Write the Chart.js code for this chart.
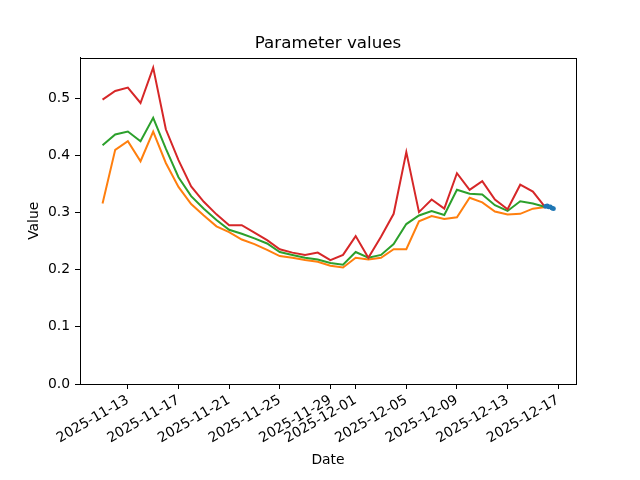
<!DOCTYPE html>
<html>
<head>
<meta charset="utf-8">
<script src="https://cdn.jsdelivr.net/npm/chart.js@4"></script>
<style>
  html, body { margin: 0; padding: 0; background: #fff; }
  #wrap { width: 640px; height: 480px; }
</style>
</head>
<body>
<div id="wrap"><canvas id="chart" width="640" height="480"></canvas></div>
<script>
// data
const dates = [
  '2025-11-11','2025-11-12','2025-11-13','2025-11-14','2025-11-15','2025-11-16',
  '2025-11-17','2025-11-18','2025-11-19','2025-11-20','2025-11-21','2025-11-22',
  '2025-11-23','2025-11-24','2025-11-25','2025-11-26','2025-11-27','2025-11-28',
  '2025-11-29','2025-11-30','2025-12-01','2025-12-02','2025-12-03','2025-12-04',
  '2025-12-05','2025-12-06','2025-12-07','2025-12-08','2025-12-09','2025-12-10',
  '2025-12-11','2025-12-12','2025-12-13','2025-12-14','2025-12-15','2025-12-16'
];
const redVals = [0.498,0.513,0.519,0.492,0.554,0.446,0.392,0.346,0.319,
  0.297,0.278,0.278,0.265,0.252,0.236,0.230,0.226,0.230,
  0.217,0.226,0.259,0.221,0.258,0.298,0.406,0.301,0.323,
  0.307,0.369,0.340,0.355,0.323,0.306,0.349,0.337,0.309];
const greenVals = [0.418,0.437,0.442,0.425,0.466,0.412,0.362,0.329,0.307,
  0.287,0.270,0.263,0.255,0.246,0.231,0.226,0.221,0.218,
  0.212,0.209,0.231,0.221,0.226,0.245,0.280,0.295,0.303,
  0.296,0.340,0.333,0.332,0.313,0.303,0.320,0.316,0.310];
const orangeVals = [0.316,0.410,0.425,0.390,0.442,0.387,0.345,0.315,0.295,
  0.276,0.266,0.253,0.245,0.235,0.224,0.221,0.217,0.214,
  0.207,0.204,0.221,0.218,0.221,0.236,0.236,0.285,0.294,
  0.289,0.292,0.326,0.318,0.302,0.297,0.298,0.307,0.310];
// short hourly series at the end
const blueTimes = ['2025-12-16T00:00','2025-12-16T03:00','2025-12-16T06:00',
  '2025-12-16T09:00','2025-12-16T12:00','2025-12-16T15:00'];
const blueVals = [0.311,0.312,0.310,0.310,0.308,0.307];

const xTickLabels = ['2025-11-13','2025-11-17','2025-11-21','2025-11-25','2025-11-29',
  '2025-12-01','2025-12-05','2025-12-09','2025-12-13','2025-12-17'];
const yTicks = [0,0.1,0.2,0.3,0.4,0.5];
const chartTitle = 'Parameter values';

// helpers: dates -> day offsets from first date
const BASE = Date.UTC(2025,10,11);
function toDay(s){
  const p = s.split('T');
  const d = p[0].split('-').map(Number);
  let t = Date.UTC(d[0], d[1]-1, d[2]);
  if(p[1]){ const h = p[1].split(':').map(Number); t += (h[0]*60 + h[1])*60000; }
  return (t - BASE) / 864e5;
}
function fmtDay(v){ return new Date(BASE + Math.round(v)*864e5).toISOString().slice(0,10); }
function pts(xs, ys){ return xs.map((s,i)=>({x:toDay(s), y:ys[i]})); }

const allX = dates.map(toDay).concat(blueTimes.map(toDay));
const xLo = Math.min(...allX), xHi = Math.max(...allX);
const xPad = (xHi - xLo) * 0.05;
const allY = redVals.concat(greenVals, orangeVals, blueVals);
const yHi = Math.max(...allY) + (Math.max(...allY) - Math.min(...allY)) * 0.05;

const FONT = 'DejaVu Sans';
Chart.defaults.font.family = FONT;
Chart.defaults.font.size = 13.9;
Chart.defaults.color = '#000';

// axes box + title centred over the plot area (matplotlib style)
const frame = {
  id: 'frame',
  afterDatasetsDraw(chart){
    const a = chart.chartArea, ctx = chart.ctx;
    ctx.save();
    ctx.strokeStyle = '#000'; ctx.lineWidth = 1;
    ctx.strokeRect(Math.round(a.left)+0.5, Math.round(a.top)+0.5,
      Math.round(a.right-a.left), Math.round(a.bottom-a.top));
    ctx.fillStyle = '#000';
    ctx.font = '16.7px "' + FONT + '"';
    ctx.textAlign = 'center'; ctx.textBaseline = 'alphabetic';
    ctx.fillText(chartTitle, (a.left + a.right)/2, a.top - 9.9);
    ctx.restore();
  }
};

const line = (col, data) => ({data, borderColor:col, backgroundColor:col, borderWidth:2,
  pointRadius:0, tension:0, fill:false});

new Chart(document.getElementById('chart'), {
  type: 'line',
  data: {
    datasets: [
      Object.assign(line('#1f77b4', pts(blueTimes, blueVals)), {pointRadius:2.4, pointBorderWidth:0}),
      line('#d62728', pts(dates, redVals)),
      line('#2ca02c', pts(dates, greenVals)),
      line('#ff7f0e', pts(dates, orangeVals))
    ]
  },
  options: {
    responsive: false,
    devicePixelRatio: 1,
    animation: false,
    layout: { padding: {top:57.6, right:64, bottom:0, left:0} },
    plugins: {
      legend: {display:false},
      tooltip: {enabled:false},
      title: {display:false}
    },
    scales: {
      x: {
        type: 'linear',
        min: xLo - xPad, max: xHi + xPad,
        afterBuildTicks: s => { s.ticks = xTickLabels.map(l => ({value: toDay(l)})); },
        afterFit: s => { s.height = 96; },
        grid: {display:true, drawOnChartArea:false, drawTicks:true, tickLength:5, color:'#000'},
        border: {display:true, color:'#000'},
        ticks: {autoSkip:false, maxRotation:30, minRotation:30, padding:3, callback: v => fmtDay(v)},
        title: {display:true, text:'Date', padding:{top:0, bottom:11.7}, font:{size:13.9, lineHeight:1.2}}
      },
      y: {
        min: 0, max: yHi,
        afterBuildTicks: s => { s.ticks = yTicks.map(v => ({value:v})); },
        afterFit: s => { s.width = 80; },
        grid: {display:true, drawOnChartArea:false, drawTicks:true, tickLength:5, color:'#000'},
        border: {display:true, color:'#000'},
        ticks: {padding:5, callback: v => v.toFixed(1)},
        title: {display:true, text:'Value', padding:{top:26, bottom:0}, font:{size:13.9, lineHeight:1.2}}
      }
    }
  },
  plugins: [frame]
});
</script>
</body>
</html>
